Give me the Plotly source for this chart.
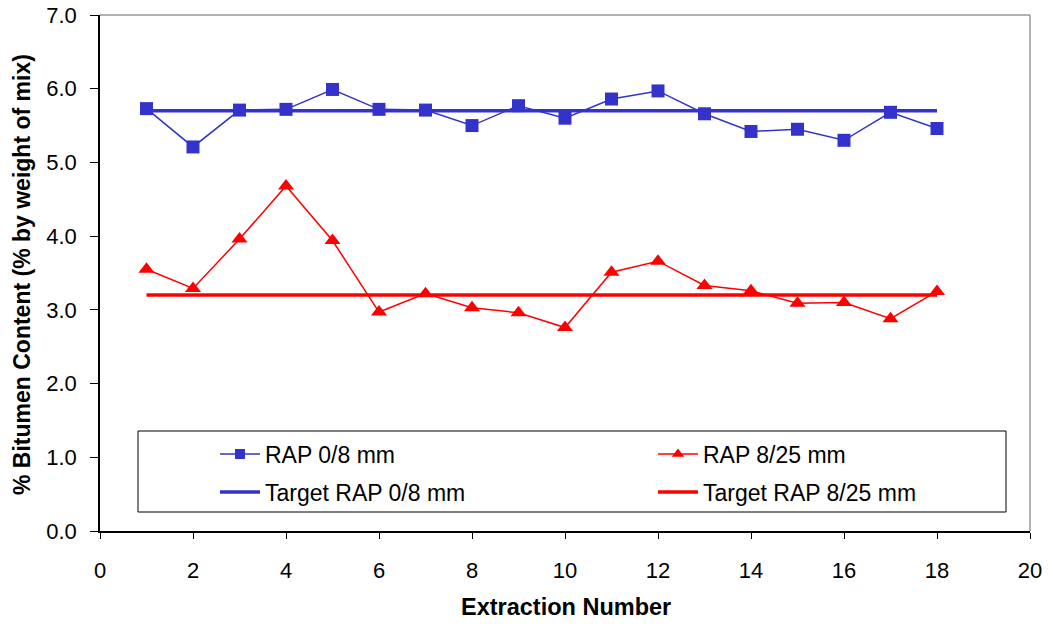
import plotly.graph_objects as go

extraction = list(range(1, 19))
rap_0_8 = [5.73, 5.21, 5.71, 5.72, 5.99, 5.72, 5.71, 5.50, 5.77, 5.60,
           5.86, 5.97, 5.66, 5.42, 5.45, 5.30, 5.68, 5.46]
rap_8_25 = [3.55, 3.29, 3.96, 4.68, 3.94, 2.97, 3.22, 3.03, 2.96, 2.76,
            3.51, 3.66, 3.33, 3.26, 3.09, 3.10, 2.88, 3.25]
target_x = [1, 18]
target_0_8 = [5.7, 5.7]
target_8_25 = [3.2, 3.2]

BLUE = "#3333CC"
RED = "#FF0000"
FONT = "Liberation Sans, Arial, sans-serif"

W, H = 1053, 626
L, R, T, B = 100, 23, 15, 95
pw, ph = W - L - R, H - T - B


def px(x):
    return (x - L) / pw


def py(y):
    return (H - B - y) / ph


fig = go.Figure()
fig.add_trace(go.Scatter(x=target_x, y=target_0_8, mode="lines", name="Target RAP 0/8 mm",
                         line=dict(color=BLUE, width=3.5), legend="legend3"))
fig.add_trace(go.Scatter(x=target_x, y=target_8_25, mode="lines", name="Target RAP 8/25 mm",
                         line=dict(color=RED, width=3.5), legend="legend4"))
fig.add_trace(go.Scatter(x=extraction, y=rap_0_8, mode="lines+markers", name="RAP 0/8 mm",
                         line=dict(color=BLUE, width=1.5), showlegend=False,
                         marker=dict(symbol="square", size=13, color=BLUE)))
fig.add_trace(go.Scatter(x=extraction, y=rap_8_25, mode="lines+markers", name="RAP 8/25 mm",
                         line=dict(color=RED, width=1.5), showlegend=False,
                         marker=dict(symbol="triangle-up", size=14, color=RED)))
# legend entries with smaller symbols (as in the reference legend)
fig.add_trace(go.Scatter(x=[None], y=[None], mode="lines+markers", name="RAP 0/8 mm",
                         line=dict(color=BLUE, width=1.5), legend="legend",
                         marker=dict(symbol="square", size=10, color=BLUE)))
fig.add_trace(go.Scatter(x=[None], y=[None], mode="lines+markers", name="RAP 8/25 mm",
                         line=dict(color=RED, width=1.5), legend="legend2",
                         marker=dict(symbol="triangle-up", size=11, color=RED)))

legend_common = dict(orientation="v", xanchor="left", yanchor="middle",
                     bgcolor="rgba(0,0,0,0)", borderwidth=0,
                     font=dict(family=FONT, size=23, color="black"),
                     itemwidth=40)

row1, row2 = 454, 492
col1, col2 = 215, 653

fig.update_layout(
    width=W, height=H,
    margin=dict(l=L, r=R, t=T, b=B),
    paper_bgcolor="white", plot_bgcolor="white",
    font=dict(family=FONT, size=22, color="black"),
    xaxis=dict(range=[0, 20], tickmode="linear", tick0=0, dtick=2, automargin=False,
               showgrid=False, zeroline=False, showline=True, linecolor="black", linewidth=1.5,
               ticks="outside", ticklen=6, tickcolor="black", ticklabelstandoff=13,
               tickfont=dict(family=FONT, size=22)),
    yaxis=dict(range=[0, 7], tickmode="linear", tick0=0, dtick=1, tickformat=".1f", automargin=False,
               showgrid=False, zeroline=False, showline=True, linecolor="black", linewidth=1.5,
               ticks="outside", ticklen=8, tickcolor="black", ticklabelstandoff=9,
               tickfont=dict(family=FONT, size=22)),
    legend=dict(x=px(col1), y=py(row1), **legend_common),
    legend2=dict(x=px(col2), y=py(row1), **legend_common),
    legend3=dict(x=px(col1), y=py(row2), **legend_common),
    legend4=dict(x=px(col2), y=py(row2), **legend_common),
    annotations=[
        dict(text="<b>Extraction Number</b>", xref="paper", yref="paper",
             x=px(566), y=py(607), xanchor="center", yanchor="middle", showarrow=False,
             font=dict(family=FONT, size=23.5, color="black")),
        dict(text="<b>% Bitumen Content (% by weight of mix)</b>", xref="paper", yref="paper",
             x=px(22), y=py(275), xanchor="center", yanchor="middle", showarrow=False,
             textangle=-90, font=dict(family=FONT, size=23, color="black")),
    ],
    shapes=[
        dict(type="line", xref="paper", yref="paper", x0=0, x1=1, y0=1, y1=1,
             line=dict(color="#999999", width=1.5)),
        dict(type="line", xref="paper", yref="paper", x0=1, x1=1, y0=0, y1=1,
             line=dict(color="#999999", width=1.5)),
        dict(type="rect", xref="paper", yref="paper", x0=px(138), x1=px(1006),
             y0=py(512), y1=py(431), line=dict(color="black", width=1), fillcolor="rgba(0,0,0,0)"),
    ],
)

fig.write_html("out.html")
